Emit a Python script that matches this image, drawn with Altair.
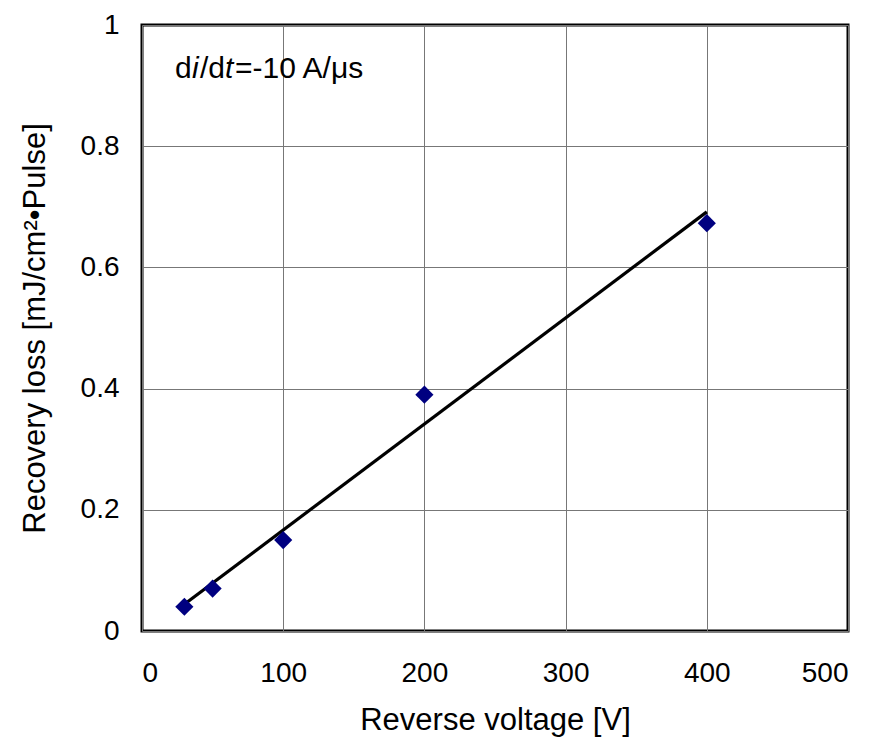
import altair as alt
import pandas as pd

# Measured recovery loss vs. reverse voltage
voltage = [30, 50, 100, 200, 400]
recovery_loss = [0.04, 0.07, 0.15, 0.39, 0.673]

x_ticks = [0, 100, 200, 300, 400, 500]
y_ticks = [0, 0.2, 0.4, 0.6, 0.8, 1]

df = pd.DataFrame({"voltage": voltage, "loss": recovery_loss})

FONT = "Liberation Sans"

x_enc = alt.X(
    "voltage:Q",
    scale=alt.Scale(domain=[0, 500], nice=False, zero=False),
    axis=alt.Axis(
        values=x_ticks,
        title="Reverse voltage [V]",
        format="d",
    ),
)
y_enc = alt.Y(
    "loss:Q",
    scale=alt.Scale(domain=[0, 1], nice=False),
    axis=alt.Axis(
        values=y_ticks,
        title="Recovery loss [mJ/cm²•Pulse]",
        labelExpr="datum.value == 0 ? '0' : datum.value == 1 ? '1' : format(datum.value, '.1f')",
    ),
)

base = alt.Chart(df)

# Linear fit through the measurements, spanning the measured range
fit = base.transform_regression(
    "voltage", "loss", method="linear", extent=[30, 400]
).mark_line(color="black", strokeWidth=3.2).encode(x=x_enc, y=y_enc)

points = base.mark_point(
    shape="diamond", filled=True, color="#000080", size=330, opacity=1
).encode(x=x_enc, y=y_enc)

# Condition label, with italic i and t
label_y = 69
pieces = [
    ("d", 175, "normal"),
    ("i", 192, "italic"),
    ("/d", 200, "normal"),
    ("t", 225, "italic"),
    ("=-10 A/μs", 235, "normal"),
]
labels = [
    alt.Chart(df)
    .transform_filter("datum.voltage == 30")
    .mark_text(
        text=txt,
        font=FONT,
        fontSize=30,
        fontStyle=style,
        align="left",
        baseline="middle",
        color="black",
    )
    .encode(x=alt.value(px - 142), y=alt.value(label_y - 25))
    for txt, px, style in pieces
]

chart = (
    alt.layer(fit, points, *labels)
    .properties(
        width=706,
        height=606,
        autosize=alt.AutoSizeParams(type="none"),
        padding={"left": 142, "top": 25, "right": 26, "bottom": 109},
        background="white",
    )
    .configure_view(stroke="black", strokeWidth=3)
    .configure_axis(
        domain=False,
        ticks=False,
        tickSize=0,
        grid=True,
        gridColor="#777777",
        gridWidth=1,
        gridOpacity=1,
        labelFont=FONT,
        labelFontSize=28,
        labelColor="black",
        titleFont=FONT,
        titleFontWeight="normal",
        titleColor="black",
    )
    .configure_axisX(labelPadding=28, titlePadding=18, titleFontSize=31)
    .configure_axisY(labelPadding=23, titlePadding=29, titleFontSize=31)
)

chart.save("out.html", embed_options={"renderer": "svg", "actions": False})
